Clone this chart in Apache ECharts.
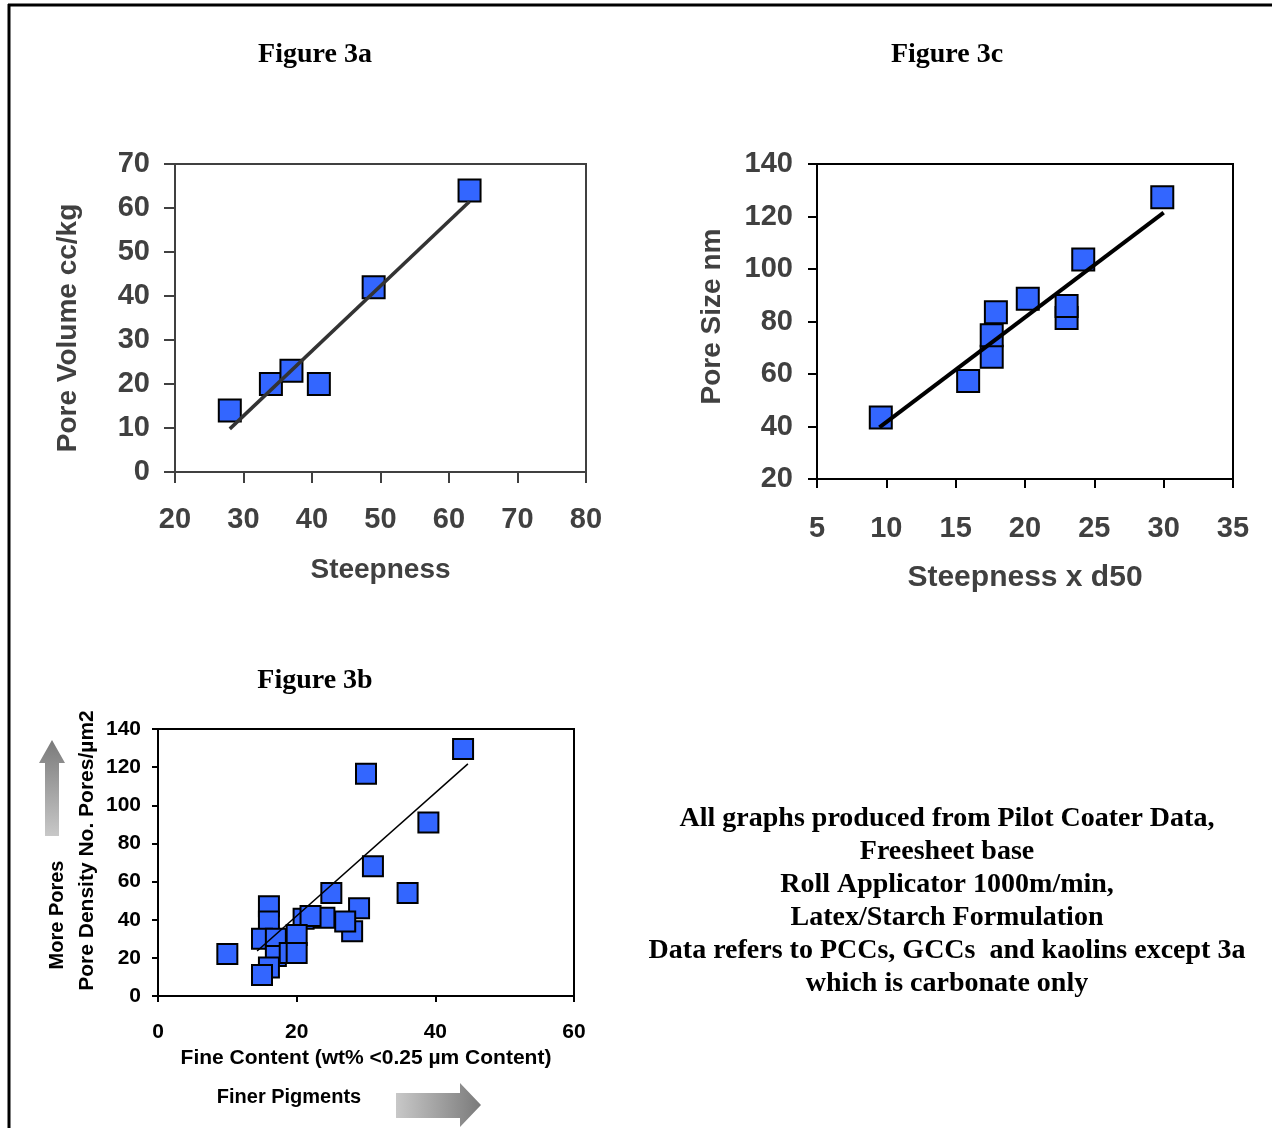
<!DOCTYPE html>
<html>
<head>
<meta charset="utf-8">
<script src="https://cdn.jsdelivr.net/npm/echarts@6/dist/echarts.min.js"></script>
<style>
html,body{margin:0;padding:0;background:#fff;}
#c{width:1272px;height:1128px;}
</style>
</head>
<body>
<div id="c"></div>
<script>
// ---- Figure 3a data ----
const fig3aSteepness = [28, 34, 37, 41, 49, 63];
const fig3aPoreVolume = [14, 20, 23, 20, 42, 64];
const fig3aTrendX = [28, 63];
const fig3aTrendY = [9.8, 61.5];
const fig3aXTicks = [20, 30, 40, 50, 60, 70, 80];
const fig3aYTicks = [0, 10, 20, 30, 40, 50, 60, 70];

// ---- Figure 3c data ----
const fig3cSteepD50 = [9.6, 15.9, 17.6, 17.6, 17.9, 20.2, 23.0, 23.0, 24.2, 29.9];
const fig3cPoreSize = [43.4, 57.3, 66.6, 74.8, 83.5, 88.7, 81.3, 85.9, 103.6, 127.3];
const fig3cTrendX = [9.5, 30.0];
const fig3cTrendY = [39.7, 121.5];
const fig3cXTicks = [5, 10, 15, 20, 25, 30, 35];
const fig3cYTicks = [20, 40, 60, 80, 100, 120, 140];

// ---- Figure 3b data ----
const fig3bFine = [10, 44, 30, 39, 31, 36, 25, 29, 28, 27, 24, 21, 22, 20, 16, 16, 15, 17, 17, 19, 20, 16, 15];
const fig3bDensity = [22, 129.5, 116.5, 91, 68, 54, 54, 46, 34, 39, 41, 40.5, 42, 32, 47, 39, 30, 30, 21, 22.5, 22.5, 15, 11];
const fig3bTrendX = [14.3, 44.7];
const fig3bTrendY = [23.6, 121.7];
const fig3bXTicks = [0, 20, 40, 60];
const fig3bYTicks = [0, 20, 40, 60, 80, 100, 120, 140];

const SANS = '"Liberation Sans", Arial, sans-serif';
const SERIF = '"Liberation Serif", "Times New Roman", serif';
const BLUE = '#3366FF';

function pairs(xs, ys) { return xs.map((x, i) => [x, ys[i]]); }

function valAxis(ticks, opts) {
  return {
    type: 'value',
    min: ticks[0],
    max: ticks[ticks.length - 1],
    interval: ticks[1] - ticks[0],
    splitLine: { show: false },
    axisLine: { show: true, onZero: false, lineStyle: { color: opts.color, width: 2 } },
    axisTick: { show: true, inside: false, length: opts.tick, lineStyle: { color: opts.color, width: 2 } },
    axisLabel: {
      margin: opts.margin,
      color: opts.textColor,
      fontSize: opts.fontSize,
      fontWeight: 'bold',
      fontFamily: SANS,
      showMinLabel: true,
      showMaxLabel: true
    },
    name: opts.name,
    nameLocation: 'middle',
    nameGap: opts.nameGap,
    nameTextStyle: {
      color: opts.textColor,
      fontSize: opts.nameSize,
      fontWeight: 'bold',
      fontFamily: SANS,
      padding: opts.namePad || 0
    }
  };
}

const chart = echarts.init(document.getElementById('c'), null, { renderer: 'canvas' });

const option = {
  animation: false,
  backgroundColor: '#ffffff',
  grid: [
    { left: 175, top: 164, width: 411, height: 308, show: true, borderColor: '#404040', borderWidth: 2, backgroundColor: 'transparent' },
    { left: 817, top: 164, width: 416, height: 315, show: true, borderColor: '#000000', borderWidth: 2, backgroundColor: 'transparent' },
    { left: 158, top: 729, width: 416, height: 267, show: true, borderColor: '#000000', borderWidth: 2, backgroundColor: 'transparent' }
  ],
  xAxis: [
    Object.assign(valAxis(fig3aXTicks, { color: '#404040', textColor: '#404040', tick: 11, margin: 33, fontSize: 29, name: 'Steepness', nameGap: 84, nameSize: 28 }), { gridIndex: 0 }),
    Object.assign(valAxis(fig3cXTicks, { color: '#000000', textColor: '#404040', tick: 9, margin: 35, fontSize: 29, name: 'Steepness x d50', nameGap: 84, nameSize: 30 }), { gridIndex: 1 }),
    Object.assign(valAxis(fig3bXTicks, { color: '#000000', textColor: '#000000', tick: 6, margin: 26, fontSize: 21, name: 'Fine Content (wt% <0.25 µm Content)', nameGap: 52, nameSize: 21 }), { gridIndex: 2 })
  ],
  yAxis: [
    Object.assign(valAxis(fig3aYTicks, { color: '#404040', textColor: '#404040', tick: 11, margin: 25, fontSize: 29, name: 'Pore Volume cc/kg', nameGap: 93, nameSize: 28, namePad: [0, 20, 0, 0] }), { gridIndex: 0 }),
    Object.assign(valAxis(fig3cYTicks, { color: '#000000', textColor: '#404040', tick: 9, margin: 24, fontSize: 29, name: 'Pore Size nm', nameGap: 91, nameSize: 28, namePad: [0, 0, 0, 10] }), { gridIndex: 1 }),
    Object.assign(valAxis(fig3bYTicks, { color: '#000000', textColor: '#000000', tick: 6, margin: 17, fontSize: 21, name: 'Pore Density No. Pores/µm2', nameGap: 60, nameSize: 21, namePad: [0, 0, 0, 24] }), { gridIndex: 2 })
  ],
  series: [
    {
      type: 'line', xAxisIndex: 0, yAxisIndex: 0, data: pairs(fig3aTrendX, fig3aTrendY),
      showSymbol: false, symbol: 'none', lineStyle: { color: '#333333', width: 3.5 }, z: 3, silent: true
    },
    {
      type: 'scatter', xAxisIndex: 0, yAxisIndex: 0, data: pairs(fig3aSteepness, fig3aPoreVolume),
      symbol: 'rect', symbolSize: 22, itemStyle: { color: BLUE, borderColor: '#000', borderWidth: 2, opacity: 1 }, z: 2
    },
    {
      type: 'line', xAxisIndex: 1, yAxisIndex: 1, data: pairs(fig3cTrendX, fig3cTrendY),
      showSymbol: false, symbol: 'none', lineStyle: { color: '#000000', width: 4 }, z: 3, silent: true
    },
    {
      type: 'scatter', xAxisIndex: 1, yAxisIndex: 1, data: pairs(fig3cSteepD50, fig3cPoreSize),
      symbol: 'rect', symbolSize: 22, itemStyle: { color: BLUE, borderColor: '#000', borderWidth: 2, opacity: 1 }, z: 2
    },
    {
      type: 'line', xAxisIndex: 2, yAxisIndex: 2, data: pairs(fig3bTrendX, fig3bTrendY),
      showSymbol: false, symbol: 'none', lineStyle: { color: '#000000', width: 1.5 }, z: 3, silent: true
    },
    {
      type: 'scatter', xAxisIndex: 2, yAxisIndex: 2, data: pairs(fig3bFine, fig3bDensity),
      symbol: 'rect', symbolSize: 20, itemStyle: { color: BLUE, borderColor: '#000', borderWidth: 2, opacity: 1 }, z: 2
    }
  ],
  graphic: [
    { type: 'line', shape: { x1: 8, y1: 5, x2: 1272, y2: 5 }, style: { stroke: '#000', lineWidth: 3 } },
    { type: 'line', shape: { x1: 9, y1: 4, x2: 9, y2: 1128 }, style: { stroke: '#000', lineWidth: 3 } },
    { type: 'text', x: 315, y: 55, style: { text: 'Figure 3a', font: 'bold 28px ' + SERIF, fill: '#000', textAlign: 'center', textVerticalAlign: 'middle' } },
    { type: 'text', x: 947, y: 55, style: { text: 'Figure 3c', font: 'bold 28px ' + SERIF, fill: '#000', textAlign: 'center', textVerticalAlign: 'middle' } },
    { type: 'text', x: 315, y: 681, style: { text: 'Figure 3b', font: 'bold 28px ' + SERIF, fill: '#000', textAlign: 'center', textVerticalAlign: 'middle' } },
    {
      type: 'text', x: 947, y: 901,
      style: {
        text: 'All graphs produced from Pilot Coater Data,\nFreesheet base\nRoll Applicator 1000m/min,\nLatex/Starch Formulation\nData refers to PCCs, GCCs  and kaolins except 3a\nwhich is carbonate only',
        font: 'bold 28px ' + SERIF, fill: '#000', textAlign: 'center', textVerticalAlign: 'middle', lineHeight: 33
      }
    },
    { type: 'text', x: 57, y: 915, rotation: Math.PI / 2, style: { text: 'More Pores', font: 'bold 20px ' + SANS, fill: '#000', textAlign: 'center', textVerticalAlign: 'middle' } },
    { type: 'text', x: 289, y: 1097, style: { text: 'Finer Pigments', font: 'bold 20px ' + SANS, fill: '#000', textAlign: 'center', textVerticalAlign: 'middle' } },
    {
      type: 'polygon',
      shape: { points: [[45, 836], [59, 836], [59, 763], [65, 763], [52, 740], [39, 763], [45, 763]] },
      style: { fill: new echarts.graphic.LinearGradient(0, 0, 0, 1, [{ offset: 0, color: '#7a7a7a' }, { offset: 1, color: '#c8c8c8' }]) }
    },
    {
      type: 'polygon',
      shape: { points: [[396, 1093], [460, 1093], [460, 1083], [481, 1105], [460, 1127], [460, 1118], [396, 1118]] },
      style: { fill: new echarts.graphic.LinearGradient(0, 0, 1, 0, [{ offset: 0, color: '#c8c8c8' }, { offset: 1, color: '#7a7a7a' }]) }
    }
  ]
};

chart.setOption(option);
</script>
</body>
</html>
